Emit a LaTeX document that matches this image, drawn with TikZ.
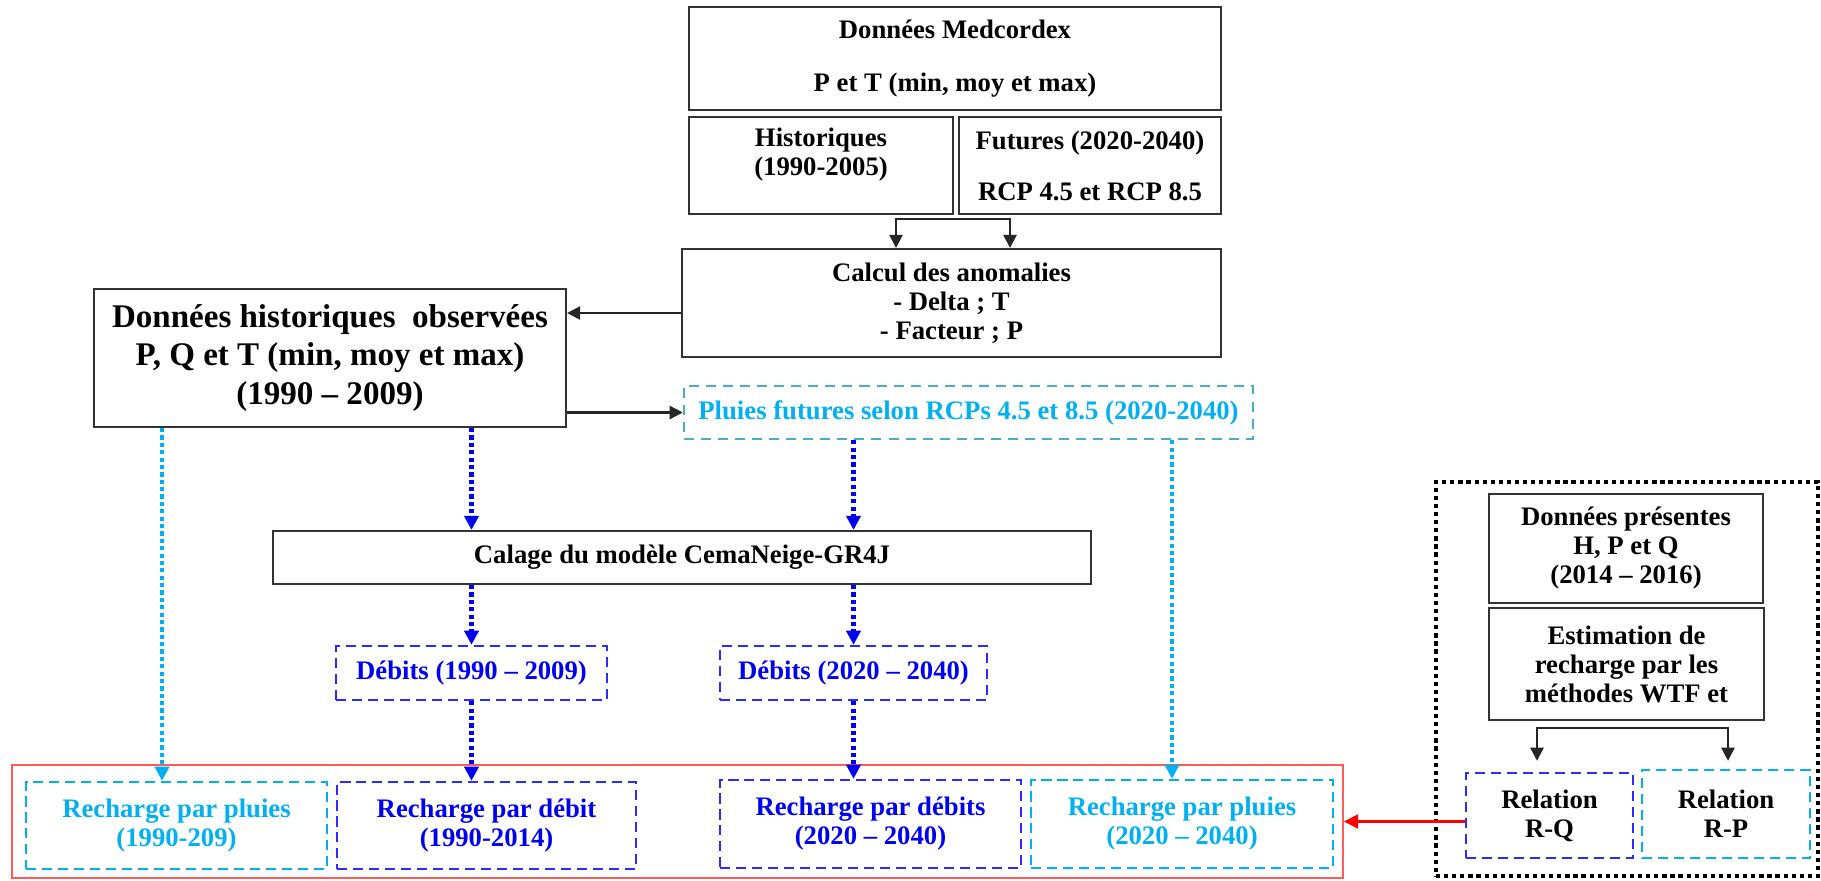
\documentclass[tikz,border=0pt]{standalone}
\usepackage{fontspec}
\setmainfont{Liberation Serif}
\usetikzlibrary{arrows.meta, calc}
\definecolor{skyblue}{HTML}{00B0F0}
\definecolor{deepblue}{HTML}{0000F0}
\definecolor{boxblue}{HTML}{2B2BFF}
\definecolor{tealedge}{HTML}{4BACC6}
\definecolor{softred}{HTML}{FF5A5A}
\definecolor{arrowred}{HTML}{FF0000}

\begin{document}
\begin{tikzpicture}[
    x=0.02cm, y=-0.02cm,
    font=\fontsize{15.2pt}{16.5pt}\selectfont\bfseries,
    >={Triangle[length=7.5pt, width=7.5pt]},
    plain box/.style 2 args={draw=black!80, line width=1.2pt, align=center,
        inner sep=0pt, minimum width=#1*0.02cm, minimum height=#2*0.02cm},
    blue box/.style 2 args={plain box={#1}{#2}, draw=boxblue, line width=1.4pt,
        dash pattern=on 5.7pt off 3.4pt, text=deepblue},
    sky box/.style 2 args={plain box={#1}{#2}, draw=skyblue, line width=1.4pt,
        dash pattern=on 5.7pt off 3.4pt, text=skyblue},
    teal box/.style 2 args={plain box={#1}{#2}, draw=tealedge, line width=1.4pt,
        dash pattern=on 5.7pt off 4pt, text=skyblue},
    frame/.style 2 args={line width=1.1pt, inner sep=0pt,
        minimum width=#1*0.02cm, minimum height=#2*0.02cm},
    flow/.style={draw=black!85, line width=1.3pt, ->},
    blue dots/.style={draw=deepblue, line width=2.4pt,
        dash pattern=on 2.4pt off 1.8pt, ->, >={Triangle[length=8pt, width=8pt]}},
    sky dots/.style={draw=skyblue, line width=2.4pt,
        dash pattern=on 2.4pt off 1.8pt, ->, >={Triangle[length=8pt, width=8pt]}},
    red flow/.style={draw=arrowred, line width=1.2pt, ->,
        >={Triangle[length=8pt, width=8pt]}},
]
\useasboundingbox (0,0) rectangle (1821,880);

% ---- frames ---------------------------------------------------------
\node[frame={1331}{113}, draw=softred] (recharge) at (677.5,821.5) {};
\node[frame={382}{394}, draw=black, line width=2.6pt,
    dash pattern=on 2.4pt off 2.2pt] (present) at (1627,679) {};

% ---- Medcordex block ------------------------------------------------
\node[plain box={532}{103}] (medc) at (955,58.5)
    {Données Medcordex\\[0.48cm]P et T (min, moy et max)};
\node[plain box={264}{97}] (hist) at (821,165.5)
    {Historiques\\(1990-2005)\\[-0.2cm]\strut};
\node[plain box={262}{97}] (fut) at (1090,165.5)
    {Futures (2020-2040)\\[0.44cm]RCP 4.5 et RCP 8.5};
\node[plain box={539}{108}] (calc) at (951.5,303)
    {Calcul des anomalies\\- Delta ; T\\- Facteur ; P};

% ---- observed data and future rain ----------------------------------
\node[plain box={472}{138}, font=\fontsize{18.8pt}{21.8pt}\selectfont\bfseries]
    (dho) at (330,358)
    {Données historiques\ \ observées\\P, Q et T (min, moy et max)\\(1990 – 2009)};
\node[teal box={569}{53}] (pluie) at (968.5,412.5)
    {Pluies futures selon RCPs 4.5 et 8.5 (2020-2040)};

% ---- model and flows ------------------------------------------------
\node[plain box={818}{53}] (calage) at (682,557.5) {Calage du modèle CemaNeige-GR4J};
\node[blue box={271}{54}] (deb1) at (471.5,673) {Débits (1990 – 2009)};
\node[blue box={267}{54}] (deb2) at (853.5,673) {Débits (2020 – 2040)};

% ---- recharge row ---------------------------------------------------
\node[sky box={301}{87}] (rpl1) at (176.5,825.5) {Recharge par pluies\\(1990-209)};
\node[blue box={299}{87}] (rdeb1) at (486.5,825.5) {Recharge par débit\\(1990-2014)};
\node[blue box={301}{88}] (rdeb2) at (870.5,824) {Recharge par débits\\(2020 – 2040)};
\node[sky box={302}{88}] (rpl2) at (1182,824) {Recharge par pluies\\(2020 – 2040)};

% ---- present data (right panel) -------------------------------------
\node[plain box={274}{109}] (pres) at (1626,548.5)
    {Données présentes\\H, P et Q\\(2014 – 2016)};
\node[plain box={275}{112}] (estim) at (1626.5,664)
    {Estimation de\\recharge par les\\méthodes WTF et};
\node[blue box={167}{85}, text=black] (rq) at (1549.5,815.5) {Relation\\R-Q};
\node[sky box={168}{88}, text=black] (rp) at (1726,814) {Relation\\R-P};

% ---- connectors -----------------------------------------------------
\coordinate (splitL) at (896,219);  \coordinate (splitR) at (1010,219);
\coordinate (forkL) at (1537,728);  \coordinate (forkR) at (1728,728);
\coordinate (tapL) at (162,0);      \coordinate (tapR) at (1172,0);

\draw[flow, <->] (calc.north -| splitL) |- (splitR) -- (calc.north -| splitR);
\draw[flow] ([yshift=-0.2cm]calc.west) -- ([yshift=-0.2cm]calc.west -| dho.east);
\draw[flow] (pluie.west -| dho.east) -- (pluie.west);

\draw[sky dots] (dho.south -| tapL) -- (rpl1.north -| tapL);
\draw[sky dots] (pluie.south -| tapR) -- (rpl2.north -| tapR);
\draw[blue dots] (dho.south -| deb1) -- (calage.north -| deb1);
\draw[blue dots] (pluie.south -| deb2) -- (calage.north -| deb2);
\draw[blue dots] (calage.south -| deb1) -- (deb1.north);
\draw[blue dots] (calage.south -| deb2) -- (deb2.north);
\draw[blue dots] (deb1.south) -- (deb1.south |- rdeb1.north);
\draw[blue dots] (deb2.south) -- (deb2.south |- rdeb2.north);

\draw[flow, <->, shorten <=0.22cm, shorten >=0.16cm]
    (rq.north -| forkL) |- (forkR) -- (rp.north -| forkR);
\draw[red flow] (recharge.east -| rq.west) -- (recharge.east);

\end{tikzpicture}
\end{document}
